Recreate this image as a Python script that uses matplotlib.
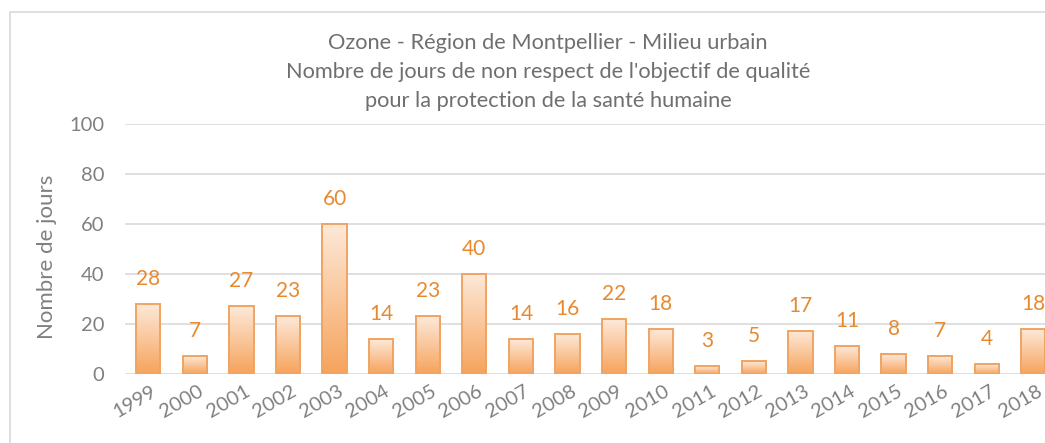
import numpy as np
import matplotlib.pyplot as plt
import matplotlib.transforms as mtransforms
from matplotlib.patches import Rectangle
from matplotlib.colors import LinearSegmentedColormap

plt.rcParams['font.family'] = ['Lato', 'DejaVu Sans']

annees = ['1999', '2000', '2001', '2002', '2003', '2004', '2005', '2006', '2007', '2008',
          '2009', '2010', '2011', '2012', '2013', '2014', '2015', '2016', '2017', '2018']
jours = [28, 7, 27, 23, 60, 14, 23, 40, 14, 16, 22, 18, 3, 5, 17, 11, 8, 7, 4, 18]
yticks = [0, 20, 40, 60, 80, 100]

titre = ("Ozone - Région de Montpellier - Milieu urbain\n"
         "Nombre de jours de non respect de l'objectif de qualité\n"
         "pour la protection de la santé humaine")

gris = '#808080'
orange = '#e8892f'

fig = plt.figure(figsize=(10.45, 4.43), dpi=100)
ax = fig.add_axes([0.1196, 0.1558, 0.8804, 0.5643])

# cadre du graphique
fig.patches.append(Rectangle((10 / 1045, -0.1), 1.2, 1 - 12 / 443 + 0.1,
                             transform=fig.transFigure, fill=False,
                             edgecolor='#d9d9d9', linewidth=1.2))

x = np.arange(len(annees))
bars = ax.bar(x, jours, width=0.52, color='none', edgecolor='#f0a463',
              linewidth=1.4, zorder=3)

# remplissage en dégradé
cmap = LinearSegmentedColormap.from_list('deg', ['#f6a35c', '#fde9d9'])
grad = np.linspace(0, 1, 256).reshape(-1, 1)
for b in bars:
    x0, y0 = b.get_x(), b.get_y()
    w, h = b.get_width(), b.get_height()
    im = ax.imshow(grad, cmap=cmap, aspect='auto', origin='lower',
                   extent=[x0, x0 + w, y0, y0 + h], zorder=2)
    im.set_clip_path(b)

for xi, v in zip(x, jours):
    ax.text(xi, v + 6, str(v), ha='center', va='bottom', color=orange,
            fontsize=15)

ax.set_xlim(-0.5, 19.25)
ax.set_ylim(0, 100)
ax.set_yticks(yticks)
ax.set_yticklabels([str(t) for t in yticks])
ax.set_xticks(x)
ax.set_xticklabels(annees, rotation=30, ha='right', rotation_mode='anchor')
ax.tick_params(axis='both', length=0, colors=gris, labelsize=14.5)
ax.tick_params(axis='x', pad=6)
ax.tick_params(axis='y', pad=15)
decal = mtransforms.ScaledTranslation(2 / 72, 0, fig.dpi_scale_trans)
for lab in ax.get_xticklabels():
    lab.set_transform(lab.get_transform() + decal)
ax.grid(axis='y', color='#d9d9d9', linewidth=1.2, zorder=0)
for s in ax.spines.values():
    s.set_visible(False)
ax.set_ylabel('Nombre de jours', color=gris, fontsize=16)
ax.yaxis.set_label_coords(-0.074, 0.47)

fig.text(0.5245, 1 - 33 / 443, titre, ha='center', va='top', color='#6f6f6f',
         fontsize=15.7, linespacing=1.55)

fig.savefig('out.png', dpi=100)
